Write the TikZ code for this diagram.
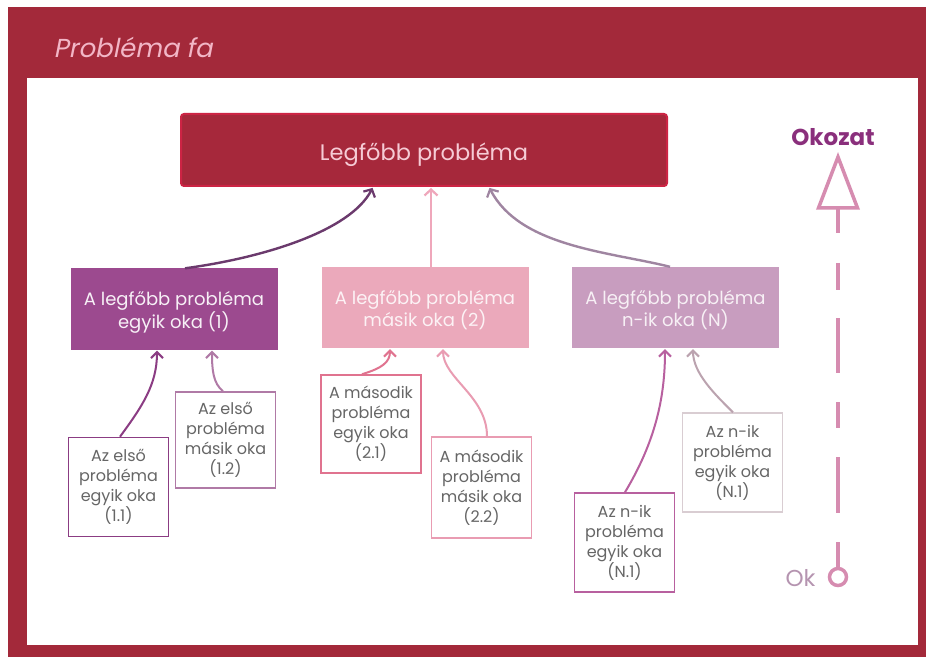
\documentclass[tikz,border=0pt]{standalone}
\usepackage{fontspec}
\setmainfont{Poppins}
\newfontfamily\slantfont[FakeSlant=0.2]{Poppins}
\usetikzlibrary{arrows.meta}

% text lowered inside its box, the box itself keeping its size
\newcommand\lowtext[2]{\raisebox{-#1}[\height][\depth]{#2}}
\newcommand\lowlines[2]{\lowtext{#1}{\begin{tabular}{@{}c@{}}#2\end{tabular}}}

\definecolor{frame}{HTML}{A3293A}
\definecolor{topfill}{HTML}{A6283B}
\definecolor{topedge}{HTML}{CC2444}
\definecolor{toptext}{HTML}{F6CBD5}
\definecolor{titletext}{HTML}{F2B6C6}
\definecolor{purpfill}{HTML}{9C4A8F}
\definecolor{pinkfill}{HTML}{EBA9BB}
\definecolor{mauvefill}{HTML}{C89DBF}
\definecolor{arrowA}{HTML}{6B3A6D}
\definecolor{arrowB}{HTML}{EFA7BB}
\definecolor{arrowC}{HTML}{9F85A1}
\definecolor{edgeOneOne}{HTML}{8B3C83}
\definecolor{edgeOneTwo}{HTML}{B07AA6}
\definecolor{edgeTwoOne}{HTML}{E0738F}
\definecolor{edgeTwoTwo}{HTML}{E99CB2}
\definecolor{edgeNOne}{HTML}{B8609F}
\definecolor{edgeNTwo}{HTML}{D9CDD2}
\definecolor{arrowNTwo}{HTML}{BBA3AF}
\definecolor{bodytext}{HTML}{666666}
\definecolor{effect}{HTML}{8A2F7C}
\definecolor{axis}{HTML}{D68CB0}
\definecolor{causetext}{HTML}{B594B0}

\tikzset{
  rootbox/.style={draw=topedge, line width=2pt, fill=topfill, rounded corners=3pt,
    minimum width=486pt, minimum height=72pt, text=toptext, font=\fontsize{22.5}{26}\selectfont},
  causebox/.style={minimum width=207pt, minimum height=81pt, align=center,
    font=\fontsize{18}{20}\selectfont, inner sep=0pt},
  subbox/.style={draw, line width=1.6pt, fill=white, minimum width=100pt, minimum height=99pt,
    align=center, text=bodytext, font=\fontsize{16}{20}\selectfont, inner sep=0pt},
  link/.style={line width=2.4pt, -{Straight Barb[length=6pt,width=13pt,line width=2.2pt]}, shorten >=1pt},
  sublink/.style={line width=2pt, -{Straight Barb[length=6pt,width=12pt,line width=2pt]}, shorten >=1pt},
}

\begin{document}
\begin{tikzpicture}[x=1pt,y=-1pt]
  % page and red frame
  \useasboundingbox (0,0) rectangle (926,660);
  \fill[white] (0,0) rectangle (926,660);
  \fill[frame] (8,7) rectangle (926,657);
  \fill[white] (27,78) rectangle (918,645);

  \node[anchor=west, text=titletext, font=\slantfont\fontsize{26}{30}\selectfont] (title) at (50,47) {Probléma fa};

  % main problem
  \node[rootbox] (root) at (424,150) {\lowtext{5pt}{Legfőbb probléma}};

  % first-level causes
  \node[causebox, fill=purpfill, text=white!92!purpfill] (c1) at (174,309)
    {\lowlines{4pt}{A legfőbb probléma\\egyik oka (1)}};
  \node[causebox, fill=pinkfill, text=white!85!pinkfill] (c2) at (425,307.5)
    {\lowlines{4pt}{A legfőbb probléma\\másik oka (2)}};
  \node[causebox, fill=mauvefill, text=white!85!mauvefill] (c3) at (675.5,307.5)
    {\lowlines{4pt}{A legfőbb probléma\\n-ik oka (N)}};

  % second-level causes
  \node[subbox, draw=edgeOneOne] (s11) at (118.5,487) {Az első\\probléma\\egyik oka\\(1.1)};
  \node[subbox, draw=edgeOneTwo, minimum height=96pt] (s12) at (225.5,440) {Az első\\probléma\\másik oka\\(1.2)};
  \node[subbox, draw=edgeTwoOne, minimum height=98pt] (s21) at (371,424) {A második\\probléma\\egyik oka\\(2.1)};
  \node[subbox, draw=edgeTwoTwo, minimum height=101pt] (s22) at (481.5,487.5) {A második\\probléma\\másik oka\\(2.2)};
  \node[subbox, draw=edgeNOne] (sN1) at (624.5,542.5) {Az n-ik\\probléma\\egyik oka\\(N.1)};
  \node[subbox, draw=edgeNTwo, line width=1.2pt] (sN2) at (732.5,462.5) {Az n-ik\\probléma\\egyik oka\\(N.1)};

  % links to the main problem
  \draw[link, arrowA] ([xshift=11pt]c1.north) .. controls +(75,-10) and +(-23,45) .. ([xshift=-51pt]root.south);
  \draw[link, arrowB] ([xshift=6pt]c2.north) -- ([xshift=7pt]root.south);
  \draw[link, arrowC] ([xshift=-5.5pt]c3.north) .. controls +(-60,-15) and +(31,60) .. ([xshift=65pt]root.south);

  % links to the first-level causes
  \draw[sublink, edgeOneOne] ([xshift=1.5pt]s11.north) .. controls +(22,-30) and +(0,35) .. ([xshift=-17pt]c1.south);
  \draw[sublink, edgeOneTwo] ([xshift=-2.5pt]s12.north) .. controls +(-10,-8) and +(0,20) .. ([xshift=38pt]c1.south);
  \draw[sublink, edgeTwoOne] ([xshift=-9pt]s21.north) .. controls +(20,-6) and +(0,14) .. ([xshift=-35pt]c2.south);
  \draw[sublink, edgeTwoTwo] ([xshift=5.5pt]s22.north) .. controls +(0,-40) and +(0,30) .. ([xshift=18pt]c2.south);
  \draw[sublink, edgeNOne] ([xshift=0.5pt]sN1.north) .. controls +(30,-50) and +(0,50) .. ([xshift=-10.5pt]c3.south);
  \draw[sublink, arrowNTwo] ([xshift=0.5pt]sN2.north) .. controls +(-18,-18) and +(0,25) .. ([xshift=17.5pt]c3.south);

  % cause-effect axis
  \node[text=effect, font=\bfseries\fontsize{23}{26}\selectfont] (effectlbl) at (833,137) {Okozat};
  \node[draw=axis, line width=3.5pt, circle, minimum size=17pt, inner sep=0pt] (causedot) at (838,577) {};
  \node[text=causetext, font=\fontsize{23}{26}\selectfont, anchor=east] (causelbl) at (819,578) {Ok};
  \coordinate (headbase) at (838,208);
  \draw[axis, line width=3.5pt, line join=miter] (838,157) -- (818.5,208) -- (857.5,208) -- cycle;
  \draw[axis, line width=3.5pt,
        dash pattern=on 25pt off 30pt on 27pt off 28pt on 55pt off 29pt on 26pt off 29pt on 56pt off 29pt on 40pt]
    (headbase) -- (causedot.north);
\end{tikzpicture}
\end{document}
